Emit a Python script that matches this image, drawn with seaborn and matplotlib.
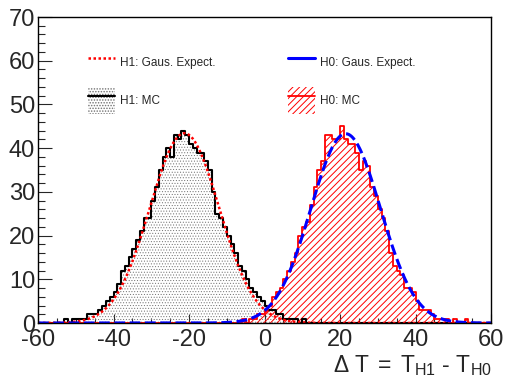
import numpy as np
import pandas as pd
import matplotlib
matplotlib.use("Agg")
import matplotlib.pyplot as plt
import seaborn as sns
from matplotlib.ticker import MultipleLocator
from matplotlib.lines import Line2D
from matplotlib.patches import Patch
from matplotlib.legend_handler import HandlerTuple

# ---------------- data ----------------
bin_min, bin_max, bin_width = -60, 60, 1

h1_first_bin = -54
h1_counts = [0, 1, 0, 1, 1, 1, 1, 2, 2, 2, 3, 4, 5, 6, 7, 9, 12, 13, 15, 17,
             19, 21, 24, 24, 28, 31, 35, 38, 40, 38, 43, 42, 44, 43, 41, 40, 39, 39, 37, 35,
             30, 25, 24, 22, 20, 18, 16, 13, 12, 10, 8, 7, 6, 5, 4, 3, 3, 2, 2, 1,
             1, 1, 1, 0, 1]

h0_first_bin = -6
h0_counts = [1, 0, 1, 1, 2, 2, 3, 4, 6, 7, 8, 10, 12, 14, 16, 20, 22, 23, 27, 31,
             35, 37, 43, 43, 42, 42, 45, 42, 41, 41, 39, 35, 37, 36, 31, 29, 26, 24, 21, 16,
             13, 12, 11, 8, 8, 7, 5, 3, 3, 3, 2, 1, 1, 1, 1, 0, 1, 0, 0, 1]

# Gaussian expectations (mean, sigma, peak height)
h1_mean, h1_sigma, h1_peak = -21.2, 9.2, 43.4
h0_mean, h0_sigma, h0_peak = 21.5, 9.2, 43.3

legend_labels = ["H1: Gaus. Expect.", "H1: MC", "H0: Gaus. Expect.", "H0: MC"]
x_title = r"$\Delta\ \mathrm{T}\;=\;\mathrm{T}_{\mathrm{H1}}\ \text{-}\ \mathrm{T}_{\mathrm{H0}}$"

# ---------------- style ----------------
sns.set_style("ticks")
plt.rcParams["font.family"] = ["Liberation Sans", "DejaVu Sans"]
plt.rcParams["mathtext.fontset"] = "custom"
plt.rcParams["mathtext.rm"] = "Liberation Sans"
plt.rcParams["mathtext.it"] = "Liberation Sans:italic"
plt.rcParams["mathtext.bf"] = "Liberation Sans:bold"
plt.rcParams["axes.unicode_minus"] = False
plt.rcParams["hatch.linewidth"] = 0.7

DOT_COLOR = "#707070"
DOT_HATCH = "......"
LINE_HATCH = "/////"

h1_df = pd.DataFrame({
    "x": h1_first_bin + bin_width * (np.arange(len(h1_counts)) + 0.5),
    "w": np.array(h1_counts, dtype=float)})
h0_df = pd.DataFrame({
    "x": h0_first_bin + bin_width * (np.arange(len(h0_counts)) + 0.5),
    "w": np.array(h0_counts, dtype=float)})

xs = np.linspace(bin_min, bin_max, 1201)
g1 = pd.DataFrame({"x": xs, "y": h1_peak * np.exp(-0.5 * ((xs - h1_mean) / h1_sigma) ** 2)})
g0 = pd.DataFrame({"x": xs, "y": h0_peak * np.exp(-0.5 * ((xs - h0_mean) / h0_sigma) ** 2)})

fig = plt.figure(figsize=(5.07, 3.81), dpi=100)
ax = fig.add_axes([38 / 507, 58 / 381, 453 / 507, 306 / 381])

hist_kw = dict(x="x", weights="w", binwidth=bin_width, binrange=(bin_min, bin_max),
               element="step", ax=ax)


def set_hlw(artist, lw):
    if hasattr(artist, "set_hatch_linewidth"):
        artist.set_hatch_linewidth(lw)


# H1 MC: dotted fill
sns.histplot(data=h1_df, fill=True, color="white", alpha=1, **hist_kw)
c1 = ax.collections[-1]
c1.set_facecolor("none")
c1.set_edgecolor(DOT_COLOR)
c1.set_linewidth(0)
c1.set_hatch(DOT_HATCH)
set_hlw(c1, 0.4)

# H0 MC: red hatch
sns.histplot(data=h0_df, fill=True, color="white", alpha=1, **hist_kw)
c0 = ax.collections[-1]
c0.set_facecolor("none")
c0.set_edgecolor("red")
c0.set_linewidth(0)
c0.set_hatch(LINE_HATCH)

# outlines
sns.histplot(data=h1_df, fill=False, color="black", linewidth=1.5, **hist_kw)
sns.histplot(data=h0_df, fill=False, color="red", linewidth=1.3, **hist_kw)

# Gaussian expectations
sns.lineplot(data=g1, x="x", y="y", ax=ax, color="red", linewidth=1.8,
             linestyle=(0, (1, 1)))
sns.lineplot(data=g0, x="x", y="y", ax=ax, color="blue", linewidth=2.2,
             linestyle=(0, (3.5, 1.5)))

ax.set_xlim(bin_min, bin_max)
ax.set_ylim(0, 70)
ax.set_xlabel("")
ax.set_ylabel("")
ax.xaxis.set_major_locator(MultipleLocator(20))
ax.xaxis.set_minor_locator(MultipleLocator(5))
ax.yaxis.set_major_locator(MultipleLocator(10))
ax.yaxis.set_minor_locator(MultipleLocator(2))
ax.tick_params(axis="x", which="major", direction="in", length=6.5, width=0.8,
               labelsize=17, pad=4, top=False)
ax.tick_params(axis="x", which="minor", direction="in", length=3.3, width=0.8, top=False)
ax.tick_params(axis="y", which="major", direction="in", length=10, width=0.8,
               labelsize=17, pad=2, right=False)
ax.tick_params(axis="y", which="minor", direction="in", length=5, width=0.8, right=False)
for s in ax.spines.values():
    s.set_visible(True)
    s.set_linewidth(1.0)
    s.set_color("black")

fig.text(492 / 507, (381 - 372) / 381, x_title, ha="right", va="baseline", fontsize=16.5)

p1 = Patch(facecolor="white", edgecolor=DOT_COLOR, hatch=DOT_HATCH, linewidth=0)
set_hlw(p1, 0.4)
handles = [
    Line2D([], [], color="red", linewidth=1.8, linestyle=(0, (1, 1))),
    (p1, Line2D([], [], color="black", linewidth=1.5)),
    Line2D([], [], color="blue", linewidth=2.2),
    (Patch(facecolor="white", edgecolor="red", hatch=LINE_HATCH, linewidth=0),
     Line2D([], [], color="red", linewidth=1.3)),
]
leg = ax.legend(handles, legend_labels, ncol=2, loc="upper left",
                bbox_to_anchor=((88 - 38) / 453, (323 - 49.5) / 306),
                frameon=False, fontsize=8.5, handlelength=2.3, handleheight=3.1,
                handletextpad=0.42, columnspacing=6.1, labelspacing=0.95,
                borderpad=0, borderaxespad=0,
                handler_map={tuple: HandlerTuple(ndivide=1)})

fig.savefig("out.png", dpi=100)
